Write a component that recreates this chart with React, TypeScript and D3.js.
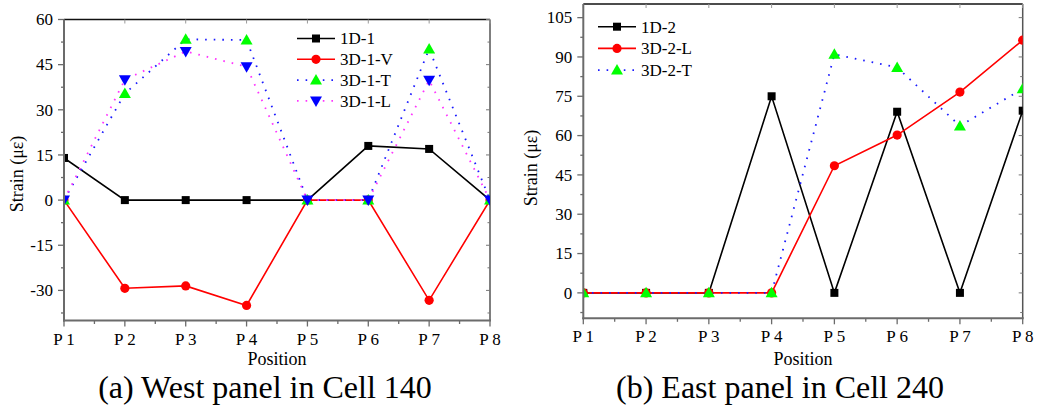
import React from "react";
import * as d3 from "d3";

const positions = ["P 1", "P 2", "P 3", "P 4", "P 5", "P 6", "P 7", "P 8"];

// Panel (a)
const s1D1 = [14, 0, 0, 0, 0, 18, 17, 0];
const s3D1V = [0, -29.3, -28.5, -35, 0, 0, -33.3, 0];
const s3D1T = [0, 35.4, 53.4, 53.2, 0, 0, 50.2, 0];
const s3D1L = [0, 40, 49.4, 44.3, 0, 0, 39.8, 0];
const ticksA = [-30, -15, 0, 15, 30, 45, 60];

// Panel (b)
const s1D2 = [0, 0, 0, 75, 0, 69.1, 0, 69.5];
const s3D2L = [0, 0, 0, 0, 48.5, 60.2, 76.6, 96.4];
const s3D2T = [0, 0, 0, 0, 91, 86, 63.7, 77.9];
const ticksB = [0, 15, 30, 45, 60, 75, 90, 105];

const FONT = "'Liberation Serif', 'Times New Roman', serif";

type Series = {
  name: string;
  values: number[];
  color: string;
  dash?: string;
  marker: "square" | "circle" | "up" | "down";
  markerColor: string;
};

function Marker({ type, x, y, color }: { type: string; x: number; y: number; color: string }) {
  if (type === "square") return <rect x={x - 4} y={y - 4} width={8} height={8} fill={color} />;
  if (type === "circle") return <circle cx={x} cy={y} r={4.6} fill={color} />;
  if (type === "up")
    return <path d={`M${x},${y - 6}L${x + 6},${y + 4.5}L${x - 6},${y + 4.5}Z`} fill={color} />;
  return <path d={`M${x},${y + 6}L${x + 6},${y - 4.5}L${x - 6},${y - 4.5}Z`} fill={color} />;
}

function Panel(props: {
  id: string;
  x0: number;
  x1: number;
  y0: number;
  y1: number;
  domain: [number, number];
  ticks: number[];
  series: Series[];
  legendX: number;
  legendY: number;
  legendStep: number;
  caption: string;
  captionX: number;
  titleX: number;
  titleY: number;
}) {
  const { x0, x1, y0, y1, domain, ticks, series } = props;
  const x = d3.scalePoint<string>().domain(positions).range([x0, x1]);
  const y = d3.scaleLinear().domain(domain).range([y1, y0]);
  const minorY: number[] = [];
  for (let v = ticks[0] - 7.5; v <= domain[1]; v += 7.5) {
    if (v >= domain[0] && !ticks.includes(v)) minorY.push(v);
  }
  const step = x.step();
  const minorX = positions.slice(0, -1).map((p) => (x(p) as number) + step / 2);
  const line = d3
    .line<number>()
    .x((_, i) => x(positions[i]) as number)
    .y((d) => y(d));
  const axisGray = "#6b6b6b";
  return (
    <g>
      <defs>
        <clipPath id={props.id}>
          <rect x={x0} y={y0} width={x1 - x0} height={y1 - y0} />
        </clipPath>
      </defs>
      {/* frame top/right */}
      <line x1={x0} x2={x1} y1={y0} y2={y0} stroke="#111" strokeWidth={1.3} />
      <line x1={x1} x2={x1} y1={y0} y2={y1} stroke="#555" strokeWidth={1.5} />
      {ticks.map((t) => (
        <line key={"rt" + t} x1={x1} x2={x1 - 4} y1={y(t)} y2={y(t)} stroke="#777" strokeWidth={1} />
      ))}
      {minorY.map((t) => (
        <line key={"rm" + t} x1={x1} x2={x1 - 2.5} y1={y(t)} y2={y(t)} stroke="#777" strokeWidth={1} />
      ))}
      {positions.map((p) => (
        <line key={"tt" + p} x1={x(p)} x2={x(p)} y1={y0} y2={y0 + 4} stroke="#999" strokeWidth={1} />
      ))}
      {/* data */}
      <g clipPath={`url(#${props.id})`}>
        {series.map((s) => (
          <path
            key={s.name}
            d={line(s.values) || ""}
            fill="none"
            stroke={s.color}
            strokeWidth={s.dash ? 1.8 : 1.6}
            strokeDasharray={s.dash}
          />
        ))}
        {series.map((s) =>
          s.values.map((v, i) => (
            <Marker key={s.name + i} type={s.marker} x={x(positions[i]) as number} y={y(v)} color={s.markerColor} />
          ))
        )}
      </g>
      {/* left axis */}
      <line x1={x0} x2={x0} y1={y0} y2={y1 + 1} stroke={axisGray} strokeWidth={2} />
      {ticks.map((t) => (
        <g key={"lt" + t}>
          <line x1={x0} x2={x0 - 6} y1={y(t)} y2={y(t)} stroke={axisGray} strokeWidth={1.3} />
          <text x={x0 - 11} y={y(t)} dy="0.34em" textAnchor="end" fontSize={17} fontFamily={FONT}>
            {t}
          </text>
        </g>
      ))}
      {minorY.map((t) => (
        <line key={"lm" + t} x1={x0} x2={x0 - 3} y1={y(t)} y2={y(t)} stroke={axisGray} strokeWidth={1.3} />
      ))}
      {/* bottom axis */}
      <line x1={x0 - 1} x2={x1 + 1} y1={y1} y2={y1} stroke={axisGray} strokeWidth={2} />
      {positions.map((p) => (
        <g key={"bt" + p}>
          <line x1={x(p)} x2={x(p)} y1={y1} y2={y1 + 6} stroke={axisGray} strokeWidth={1.3} />
          <text x={x(p)} y={y1 + 24} textAnchor="middle" fontSize={17} fontFamily={FONT}>
            {p}
          </text>
        </g>
      ))}
      {minorX.map((mx, i) => (
        <line key={"bm" + i} x1={mx} x2={mx} y1={y1} y2={y1 + 3.5} stroke={axisGray} strokeWidth={1.3} />
      ))}
      <text x={(x0 + x1) / 2} y={365} textAnchor="middle" fontSize={18} fontFamily={FONT}>
        Position
      </text>
      <text
        transform={`translate(${props.titleX},${props.titleY}) rotate(-90)`}
        textAnchor="middle"
        dy="0.35em"
        fontSize={18}
        fontFamily={FONT}
      >
        Strain (με)
      </text>
      {/* legend */}
      {series.map((s, i) => {
        const ly = props.legendY + i * props.legendStep;
        const lx = props.legendX;
        return (
          <g key={"lg" + s.name}>
            <line
              x1={lx}
              x2={lx + 38}
              y1={ly}
              y2={ly}
              stroke={s.color}
              strokeWidth={s.dash ? 1.8 : 1.6}
              strokeDasharray={s.dash}
            />
            <Marker type={s.marker} x={lx + 19} y={ly} color={s.markerColor} />
            <text x={lx + 43} y={ly} dy="0.35em" fontSize={17} fontFamily={FONT}>
              {s.name}
            </text>
          </g>
        );
      })}
      <text x={props.captionX} y={398} textAnchor="middle" fontSize={32} fontFamily={FONT}>
        {props.caption}
      </text>
    </g>
  );
}

export default function App() {
  const seriesA: Series[] = [
    { name: "1D-1", values: s1D1, color: "#000", marker: "square", markerColor: "#000" },
    { name: "3D-1-V", values: s3D1V, color: "#ff0000", marker: "circle", markerColor: "#ff0000" },
    { name: "3D-1-T", values: s3D1T, color: "#1a1aff", dash: "1.6 7", marker: "up", markerColor: "#00ff00" },
    { name: "3D-1-L", values: s3D1L, color: "#ff33ff", dash: "1.6 7", marker: "down", markerColor: "#0000ff" },
  ];
  const seriesB: Series[] = [
    { name: "1D-2", values: s1D2, color: "#000", marker: "square", markerColor: "#000" },
    { name: "3D-2-L", values: s3D2L, color: "#ff0000", marker: "circle", markerColor: "#ff0000" },
    { name: "3D-2-T", values: s3D2T, color: "#1a1aff", dash: "1.6 7", marker: "up", markerColor: "#00ff00" },
  ];
  return (
    <svg
      width={1037}
      height={408}
      style={{ position: "absolute", left: 0, top: 0, background: "#fff" }}
    >
      <rect width={1037} height={408} fill="#fff" />
      <Panel
        id="clipA"
        x0={64}
        x1={490}
        y0={19.5}
        y1={320.5}
        domain={[-40, 60]}
        ticks={ticksA}
        series={seriesA}
        legendX={297}
        legendY={38.5}
        legendStep={20.8}
        caption="(a) West panel in Cell 140"
        captionX={265}
        titleX={17}
        titleY={174}
      />
      <Panel
        id="clipB"
        x0={583.3}
        x1={1022.7}
        y0={4}
        y1={318.3}
        domain={[-9.7, 110.2]}
        ticks={ticksB}
        series={seriesB}
        legendX={598}
        legendY={26.7}
        legendStep={21.7}
        caption="(b) East panel in Cell 240"
        captionX={780}
        titleX={531}
        titleY={168}
      />
    </svg>
  );
}
